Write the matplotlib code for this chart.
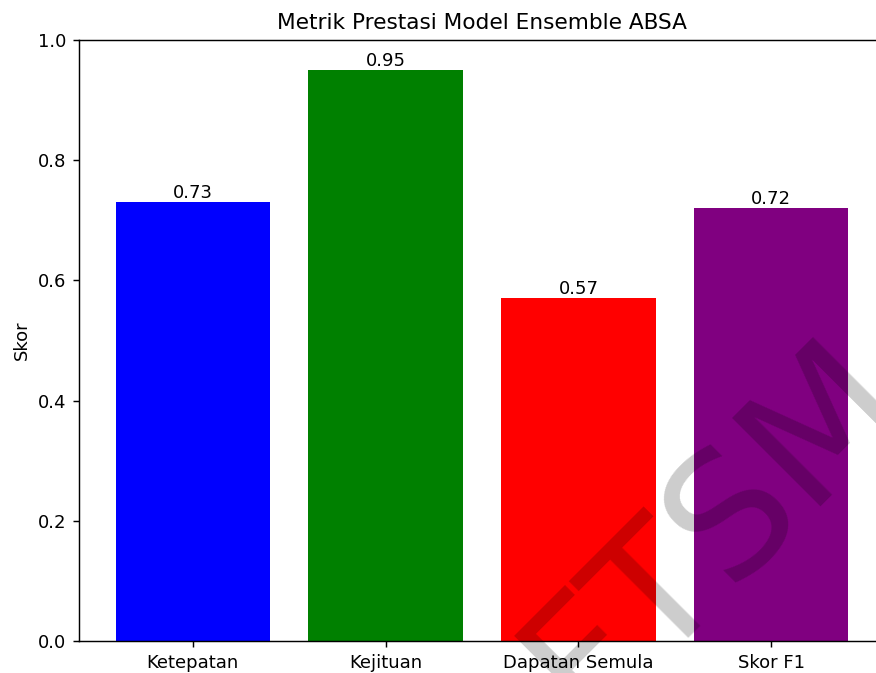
import matplotlib
matplotlib.use("Agg")
import matplotlib.pyplot as plt

categories = ["Ketepatan", "Kejituan", "Dapatan Semula", "Skor F1"]
scores = [0.73, 0.95, 0.57, 0.72]
colors = ["blue", "green", "red", "purple"]
title = "Metrik Prestasi Model Ensemble ABSA"
ylabel = "Skor"
watermark = "FTSM"

W, H = 876, 673
DPI = 130
fig = plt.figure(figsize=(W / DPI, H / DPI), dpi=DPI)
# axes extends slightly past the right edge (reference is cropped there)
left, right, top, bottom = 79, 885, 40, 641
ax = fig.add_axes([left / W, 1 - bottom / H, (right - left) / W, (bottom - top) / H])

bars = ax.bar(categories, scores, color=colors)
ax.bar_label(bars, labels=[f"{v:.2f}" for v in scores])
ax.set_ylim(0, 1.0)
ax.set_title(title)
ax.set_ylabel(ylabel)

# diagonal watermark
fig.text(586 / W, 1 - 725 / H, watermark, fontsize=95, color="black", alpha=0.2,
         rotation=45, rotation_mode="anchor", ha="left", va="baseline")

fig.savefig("out.png", dpi=DPI)
